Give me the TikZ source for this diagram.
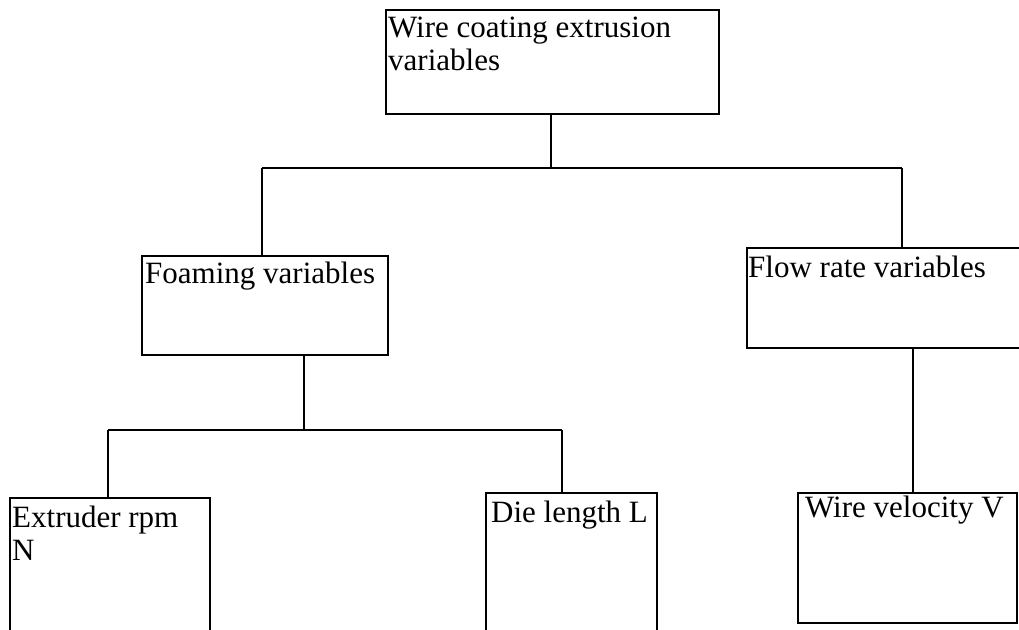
\documentclass[tikz,border=0pt]{standalone}
\usepackage{fontspec}
\setmainfont{Liberation Serif}
\usetikzlibrary{calc}
\begin{document}
\begin{tikzpicture}[x=1pt,y=-1pt,
  box/.style={draw=black,line width=2pt,rectangle,inner sep=0pt,anchor=north west},
  lbl/.style={anchor=base west,inner sep=0pt,align=left,font=\fontsize{31}{33}\selectfont},
  conn/.style={draw=black,line width=2pt}]
\useasboundingbox (0,0) rectangle (1019,629);
\clip (0,0) rectangle (1019,629);
% boxes
\node[box,minimum width=333pt,minimum height=104pt] (top) at (385,9) {};
\node[box,minimum width=246pt,minimum height=99pt] (foam) at (141,255) {};
\node[box,minimum width=290pt,minimum height=100pt] (flow) at (746,247) {};
\node[box,minimum width=200pt,minimum height=160pt] (extr) at (9,497) {};
\node[box,minimum width=171pt,minimum height=160pt] (die) at (485,492) {};
\node[box,minimum width=219pt,minimum height=130pt] (wvel) at (797,492) {};
% labels (base anchor = baseline of last line)
\node[lbl] (topt) at ($(top.north west)+(3,61)$) {Wire coating extrusion\\variables};
\node[lbl] (foamt) at ($(foam.north west)+(4,28)$) {Foaming variables};
\node[lbl] (flowt) at ($(flow.north west)+(2,30)$) {Flow rate variables};
\node[lbl] (extrt) at ($(extr.north west)+(3,63)$) {Extruder rpm\\N};
\node[lbl] (diet) at ($(die.north west)+(6,30)$) {Die length L};
\node[lbl] (wvelt) at ($(wvel.north west)+(8,25)$) {Wire velocity V};
% bus coordinates
\coordinate (b1) at (551,168);
\coordinate (b1l) at (262,168);
\coordinate (b1r) at (902,168);
\coordinate (b2) at (304,430);
\coordinate (b2l) at (108,430);
\coordinate (b2r) at (562,430);
% connectors
\draw[conn] (top.south -| b1) -- (b1);
\draw[conn] (b1l) -- (b1r);
\draw[conn] (b1l) -- (b1l |- foam.north);
\draw[conn] (b1r) -- (b1r |- flow.north);
\draw[conn] (foam.south -| b2) -- (b2);
\draw[conn] (b2l) -- (b2r);
\draw[conn] (b2l) -- (b2l |- extr.north);
\draw[conn] (b2r) -- (b2r |- die.north);
\coordinate (fc) at (913,0);
\draw[conn] (flow.south -| fc) -- (wvel.north -| fc);
\end{tikzpicture}
\end{document}
